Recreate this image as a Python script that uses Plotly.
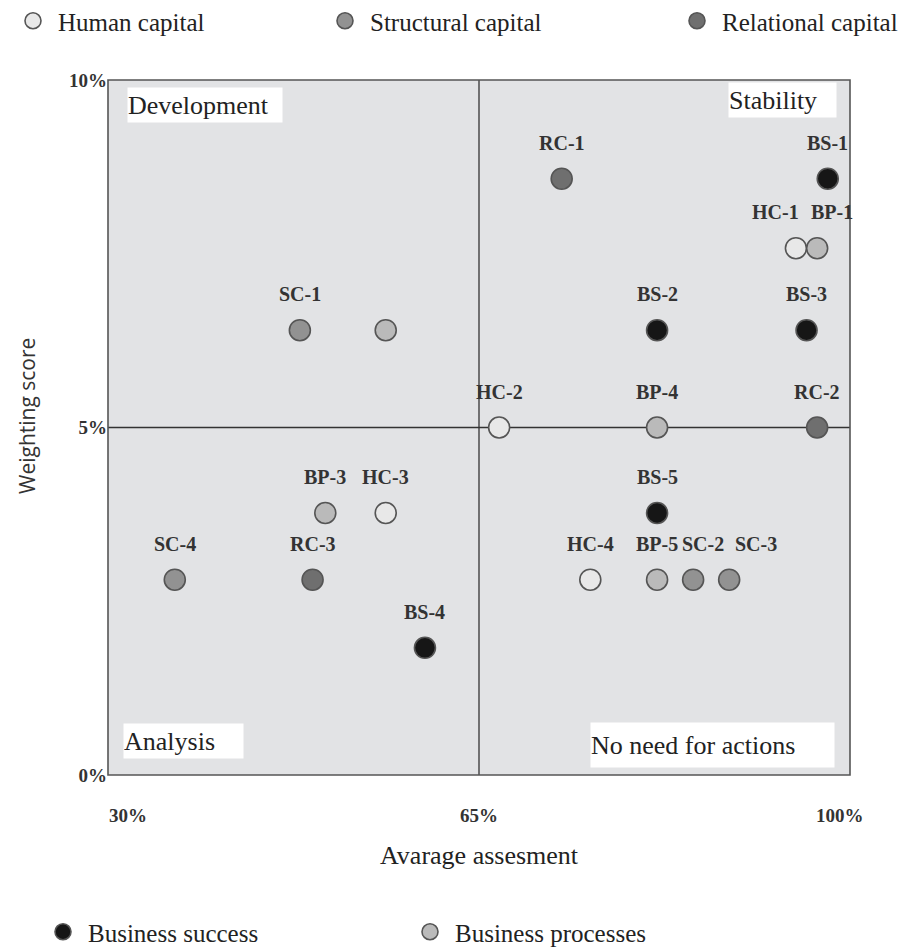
import plotly.graph_objects as go

# ---- data ----
hc_labels = ["HC-1", "HC-2", "HC-3", "HC-4"]
hc_x = [94.9, 66.9, 56.2, 75.5]
hc_y = [7.58, 5.0, 3.77, 2.81]

sc_labels = ["SC-1", "SC-2", "SC-3", "SC-4"]
sc_x = [48.1, 85.2, 88.6, 36.3]
sc_y = [6.4, 2.81, 2.81, 2.81]

rc_labels = ["RC-1", "RC-2", "RC-3"]
rc_x = [72.8, 96.9, 49.3]
rc_y = [8.58, 5.0, 2.81]

bs_labels = ["BS-1", "BS-2", "BS-3", "BS-4", "BS-5"]
bs_x = [97.9, 81.8, 95.9, 59.9, 81.8]
bs_y = [8.58, 6.4, 6.4, 1.83, 3.77]

bp_labels = ["BP-1", "", "BP-3", "BP-4", "BP-5"]
bp_x = [96.9, 56.2, 50.5, 81.8, 81.8]
bp_y = [7.58, 6.4, 3.77, 5.0, 2.81]

x_ticks = [30, 65, 100]
x_tick_text = ["30%", "65%", "100%"]
y_ticks = [0, 5, 10]
y_tick_text = ["0%", "5%", "10%"]

# ---- styling ----
SERIF = "Liberation Serif, Times New Roman, serif"
EDGE = "#555555"
series = [
    ("Human capital", hc_labels, hc_x, hc_y, "#e8e8e8", "legend"),
    ("Structural capital", sc_labels, sc_x, sc_y, "#929292", "legend2"),
    ("Relational capital", rc_labels, rc_x, rc_y, "#6f6f6f", "legend3"),
    ("Business success", bs_labels, bs_x, bs_y, "#161616", "legend4"),
    ("Business processes", bp_labels, bp_x, bp_y, "#bababa", "legend5"),
]
label_dx = {"HC-1": -20, "BP-1": 15, "SC-2": 10, "SC-3": 27}

# page body adds an 8px offset; figure coords = screen coords - OFF
OFF = 8
W, H = 910, 940
L, T = 108 - OFF, 80 - OFF
R = W - (850 - OFF)
B = H - (775 - OFF)
pw, ph = W - L - R, H - T - B

def px_x(s):
    return (s - OFF - L) / pw

def px_y(s):
    return (H - B - (s - OFF)) / ph

fig = go.Figure()
annotations = []
for name, labels, xs, ys, color, lg in series:
    fig.add_trace(go.Scatter(
        x=xs, y=ys, mode="markers", name=name, legend=lg, showlegend=True,
        marker=dict(size=21, color=color, line=dict(color=EDGE, width=1.6)),
        hoverinfo="skip",
    ))
    for lab, xv, yv in zip(labels, xs, ys):
        if lab:
            annotations.append(dict(
                x=xv, y=yv, xref="x", yref="y", text=f"<b>{lab}</b>",
                showarrow=False, yshift=36, xshift=label_dx.get(lab, 0),
                font=dict(family=SERIF, size=20, color="#333333"),
            ))

# x tick labels
for v, t, dx in zip(x_ticks, x_tick_text, [20, 0, -10]):
    annotations.append(dict(
        x=v, y=0, xref="x", yref="y", text=f"<b>{t}</b>", showarrow=False,
        yshift=-40, xshift=dx, font=dict(family=SERIF, size=19, color="#333333"),
    ))

# axis titles
annotations.append(dict(
    x=65, xref="x", y=px_y(855), yref="paper", text="Avarage assesment",
    xanchor="center", yanchor="middle",
    showarrow=False, font=dict(family=SERIF, size=26, color="#222222"),
))
annotations.append(dict(
    x=px_x(27), xref="paper", y=px_y(416), yref="paper", text="Weighting score",
    xanchor="center", yanchor="middle",
    textangle=-90, showarrow=False,
    font=dict(family="Open Sans, DejaVu Sans, sans-serif", size=21, color="#333333"),
))

# quadrant labels
quad = [
    ("Development", 127, 87, 154, 34),
    ("Stability", 728, 82, 107, 34),
    ("Analysis", 123, 723, 119, 34),
    ("No need for actions", 590, 722, 243, 44),
]
for text, x0, y0, w, h in quad:
    annotations.append(dict(
        x=px_x(x0), y=px_y(y0), xref="paper", yref="paper", xanchor="left", yanchor="top",
        text=text, showarrow=False, width=w, height=h, align="left", valign="middle",
        bgcolor="white", borderpad=0,
        font=dict(family=SERIF, size=26, color="#222222"),
    ))

shapes = [
    dict(type="line", xref="x", yref="paper", x0=65, x1=65, y0=0, y1=1,
         line=dict(color="#333333", width=1.3), layer="below"),
    dict(type="line", xref="paper", yref="y", x0=0, x1=1, y0=5, y1=5,
         line=dict(color="#333333", width=1.3), layer="below"),
    dict(type="rect", xref="paper", yref="paper", x0=0, x1=1, y0=0, y1=1,
         line=dict(color="#555555", width=1.6)),
]

leg_font = dict(family=SERIF, size=25, color="#222222")
def leg(mx, my):
    x = (mx - OFF - 22) / W
    return dict(x=x, y=1 - (my - OFF) / H, xref="container", yref="container",
                xanchor="left", yanchor="middle", itemwidth=40,
                orientation="h", font=leg_font, bgcolor="rgba(0,0,0,0)", borderwidth=0)

fig.update_layout(
    width=W, height=H,
    showlegend=True,
    margin=dict(l=L, r=R, t=T, b=B, autoexpand=False),
    paper_bgcolor="white",
    plot_bgcolor="#e2e3e5",
    xaxis=dict(range=[30, 100], showgrid=False, zeroline=False, showticklabels=False,
               ticks="", fixedrange=True),
    yaxis=dict(range=[0, 10], showgrid=False, zeroline=False, tickvals=y_ticks,
               ticktext=[f"<b>{t}</b>" for t in y_tick_text], ticks="",
               tickfont=dict(family=SERIF, size=19, color="#333333"), fixedrange=True),
    legend=leg(17, 21),
    legend2=leg(342, 21),
    legend3=leg(694, 21),
    legend4=leg(60, 932),
    legend5=leg(427, 932),
    annotations=annotations,
    shapes=shapes,
)

fig.write_html("out.html")
